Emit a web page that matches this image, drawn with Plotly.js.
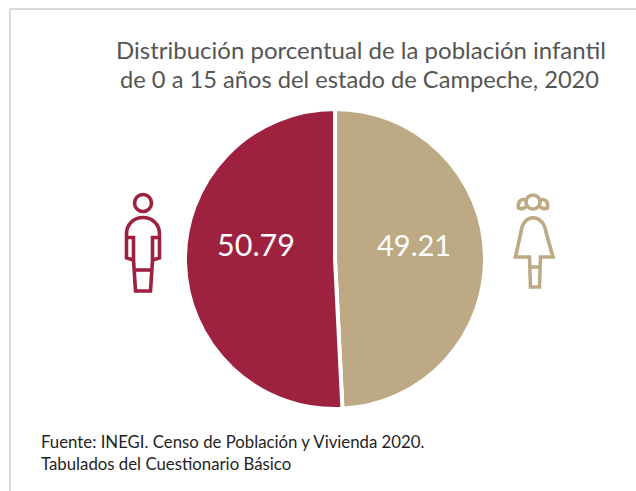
<!DOCTYPE html>
<html>
<head>
<meta charset="utf-8">
<script src="https://cdn.plot.ly/plotly-3.0.1.min.js"></script>
<style>html,body{margin:0;padding:0;background:#fff}#c{width:636px;height:491px}</style>
</head>
<body>
<div id="c"></div>
<script>
const categories = ['Niñas', 'Niños'];
const values = [49.21, 50.79];
const colors = ['#BDAA84', '#9E2140'];
const titleLines = ['Distribución porcentual de la población infantil', 'de 0 a 15 años del estado de Campeche, 2020'];
const sourceLines = ['Fuente: INEGI. Censo de Población y Vivienda 2020.', 'Tabulados del Cuestionario Básico'];

const W = 636, H = 491;
const px = x => x / W;
const py = y => 1 - y / H;
const FONT = 'Lato, "Open Sans", sans-serif';

function pathPx(segs) {
  return segs.map(s => {
    const c = s[0];
    const nums = s.slice(1);
    const out = nums.map((n, i) => i % 2 === 0 ? px(n).toFixed(5) : py(n).toFixed(5));
    return c + out.join(' ');
  }).join(' ');
}
function iconShape(segs, color, w) {
  return {type: 'path', xref: 'paper', yref: 'paper', path: pathPx(segs),
          line: {color: color, width: w}, fillcolor: 'rgba(0,0,0,0)'};
}
function circle(cx, cy, r, color, w) {
  return {type: 'circle', xref: 'paper', yref: 'paper',
          x0: px(cx - r), x1: px(cx + r), y0: py(cy + r), y1: py(cy - r),
          line: {color: color, width: w}, fillcolor: 'rgba(0,0,0,0)'};
}
function border(x0, y0, x1, y1) {
  return {type: 'line', xref: 'paper', yref: 'paper', x0: px(x0), y0: py(y0), x1: px(x1), y1: py(y1),
          line: {color: '#DADADA', width: 2}};
}

const boy = colors[1], girl = colors[0];
const SW = 3.6;
const shapes = [
  border(10, 9, 636, 9),
  border(10, 9, 10, 491),
  // boy
  circle(143, 203, 8.5, boy, SW),
  iconShape([['M',133.5,260],['L',126.5,258],['L',126.5,234],['C',126.5,224,134,217.5,143,217.5],['C',152,217.5,159.5,224,159.5,234],['L',159.5,258],['L',152.5,260]], boy, SW),
  iconShape([['M',126.5,237.5],['L',133.5,237.5],['L',133.5,260],['L',135.5,291],['L',150.5,291],['L',152.5,260],['L',152.5,237.5],['L',159.5,237.5]], boy, SW),
  iconShape([['M',135,270],['L',151,270]], boy, SW),
  // girl
  circle(533, 202, 7, girl, SW),
  iconShape([['M',525.5,200],['C',520,198,517.5,203,518.5,208],['C',522,209.5,526,208,527,205]], girl, SW),
  iconShape([['M',540.5,200],['C',546,198,548.5,203,547.5,208],['C',544,209.5,540,208,539,205]], girl, SW),
  iconShape([['M',515.5,257],['L',521,232],['C',523,213,543,213,546,232],['L',553,257],['L',540.5,257],['L',539.5,287],['L',530.5,287],['L',529.5,257],['Z']], girl, SW),
  iconShape([['M',530,267],['L',540,267]], girl, SW)
];

function txt(text, x, y, size, color, anchor) {
  return {text: text, x: px(x), y: py(y), xref: 'paper', yref: 'paper', xanchor: anchor, yanchor: 'middle',
          showarrow: false, font: {family: FONT, size: size, color: color}};
}
const annotations = [
  txt(titleLines[0], 360.5, 49, 24, '#555555', 'center'),
  txt(titleLines[1], 359, 79, 23.7, '#555555', 'center'),
  txt(String(values[1]), 256, 244, 30.5, '#FFFFFF', 'center'),
  txt(String(values[0]), 414, 244, 29, '#FFFFFF', 'center'),
  txt(sourceLines[0], 38.5, 441, 16.8, '#1F1F1F', 'left'),
  txt(sourceLines[1], 38.5, 463, 16.8, '#1F1F1F', 'left')
];

const R = 150, CX = 335, CY = 259;
Plotly.newPlot('c', [{
  type: 'pie',
  labels: categories,
  values: values,
  sort: false,
  direction: 'clockwise',
  rotation: 0,
  textinfo: 'none',
  hoverinfo: 'label+value',
  marker: {colors: colors, line: {color: '#FFFFFF', width: 4}},
  domain: {x: [px(CX - R), px(CX + R)], y: [py(CY + R), py(CY - R)]}
}], {
  width: W, height: H,
  margin: {l: 0, r: 0, t: 0, b: 0, pad: 0},
  showlegend: false,
  paper_bgcolor: '#FFFFFF',
  shapes: shapes,
  annotations: annotations
}, {displayModeBar: false, staticPlot: true});
</script>
</body>
</html>
